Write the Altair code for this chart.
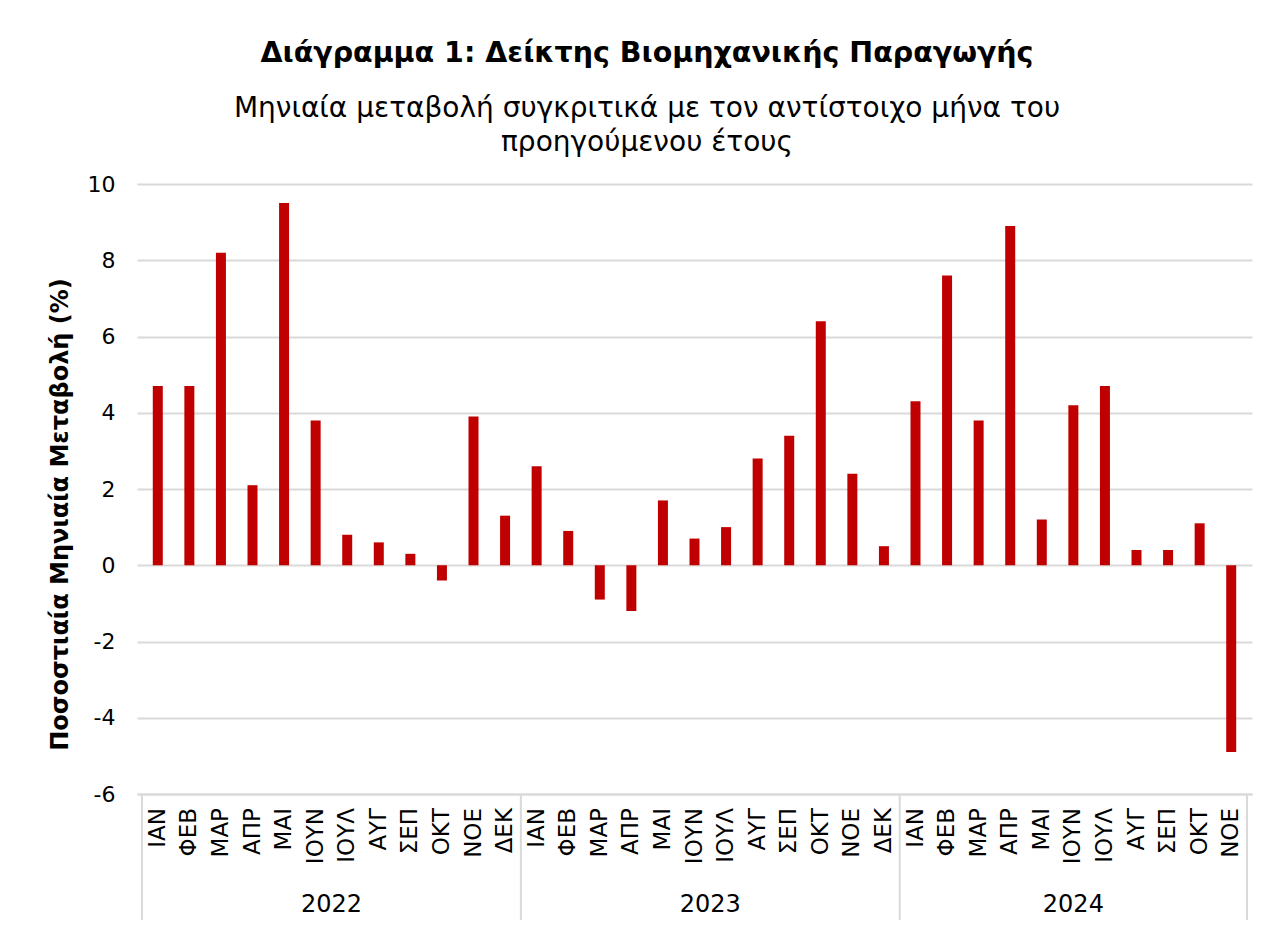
import altair as alt
import pandas as pd

title_text = "Διάγραμμα 1: Δείκτης Βιομηχανικής Παραγωγής"
subtitle_lines = ["Μηνιαία μεταβολή συγκριτικά με τον αντίστοιχο μήνα του", "προηγούμενου έτους"]
y_title = "Ποσοστιαία Μηνιαία Μεταβολή (%)"

months = ["ΙΑΝ", "ΦΕΒ", "ΜΑΡ", "ΑΠΡ", "ΜΑΙ", "ΙΟΥΝ", "ΙΟΥΛ", "ΑΥΓ", "ΣΕΠ", "ΟΚΤ", "ΝΟΕ", "ΔΕΚ"]
years = ["2022", "2023", "2024"]
v2022 = [4.7, 4.7, 8.2, 2.1, 9.5, 3.8, 0.8, 0.6, 0.3, -0.4, 3.9, 1.3]
v2023 = [2.6, 0.9, -0.9, -1.2, 1.7, 0.7, 1.0, 2.8, 3.4, 6.4, 2.4, 0.5]
v2024 = [4.3, 7.6, 3.8, 8.9, 1.2, 4.2, 4.7, 0.4, 0.4, 1.1, -4.9]
y_ticks = [-6, -4, -2, 0, 2, 4, 6, 8, 10]

FONT = "DejaVu Sans"
GRID = "#d9d9d9"
BAR = "#C00000"

rows = []
for yname, vals in zip(years, [v2022, v2023, v2024]):
    for m, v in zip(months, vals):
        rows.append({"year": yname, "month": m, "value": v})
df = pd.DataFrame(rows)
df["pos"] = df.index + 0.5

bounds = [0]
for vals in [v2022, v2023, v2024]:
    bounds.append(bounds[-1] + len(vals))
sep = pd.DataFrame({"pos": bounds})
yr = pd.DataFrame({"year": years, "pos": [(bounds[i] + bounds[i + 1]) / 2 for i in range(len(years))]})

W, H = 1115, 610
xscale = alt.Scale(domain=[0, len(df)], nice=False, zero=False)

bars = alt.Chart(df).mark_bar(size=10, color=BAR).encode(
    x=alt.X("pos:Q", scale=xscale,
            axis=alt.Axis(labels=False, ticks=False, grid=False, domainColor=GRID,
                          domainWidth=2, title=None)),
    y=alt.Y("value:Q", scale=alt.Scale(domain=[-6, 10], nice=False),
            axis=alt.Axis(values=y_ticks, grid=True, gridColor=GRID, gridWidth=2,
                          domain=False, ticks=False, labelPadding=22, labelFontSize=22,
                          labelExpr="'' + datum.value",
                          labelColor="#000000", labelFont=FONT,
                          title=y_title, titleFontSize=24, titleFontWeight="bold",
                          titleFont=FONT, titleColor="#000000",
                          titleX=-77, titleY=330, titleAngle=270,
                          titleAlign="center", titleBaseline="middle")),
)

month_text = alt.Chart(df).mark_text(font=FONT, fontSize=23, color="#000000",
                                     angle=270, align="right", baseline="middle").encode(
    x=alt.X("pos:Q", scale=xscale),
    y=alt.value(H + 14),
    text="month:N",
)

rules = alt.Chart(sep).mark_rule(color=GRID, strokeWidth=2).encode(
    x=alt.X("pos:Q", scale=xscale),
    y=alt.value(H),
    y2=alt.value(H + 126),
)

year_text = alt.Chart(yr).mark_text(font=FONT, fontSize=24, color="#000000", baseline="middle").encode(
    x=alt.X("pos:Q", scale=xscale),
    y=alt.value(721),
    text="year:N",
)

title_mark = alt.Chart(pd.DataFrame({"t": [title_text]})).mark_text(
    font=FONT, fontSize=28.5, fontWeight="bold", color="#000000", align="center",
    baseline="alphabetic").encode(x=alt.value(510), y=alt.value(-122), text="t:N")

sub1 = alt.Chart(pd.DataFrame({"t": [subtitle_lines[0]]})).mark_text(
    font=FONT, fontSize=28, color="#000000", align="center", baseline="alphabetic").encode(
    x=alt.value(510), y=alt.value(-67), text="t:N")
sub2 = alt.Chart(pd.DataFrame({"t": [subtitle_lines[1]]})).mark_text(
    font=FONT, fontSize=28, color="#000000", align="center", baseline="alphabetic").encode(
    x=alt.value(510), y=alt.value(-33), text="t:N")

chart = alt.layer(bars, rules, month_text, year_text, title_mark, sub1, sub2).properties(
    width=W, height=H,
    autosize=alt.AutoSizeParams(type="none"),
    padding={"left": 129, "top": 176, "right": 11, "bottom": 130},
    background="white",
).configure(font=FONT).configure_view(stroke="transparent", strokeWidth=0)

chart.save("out.html", embed_options={"renderer": "svg", "actions": False})
